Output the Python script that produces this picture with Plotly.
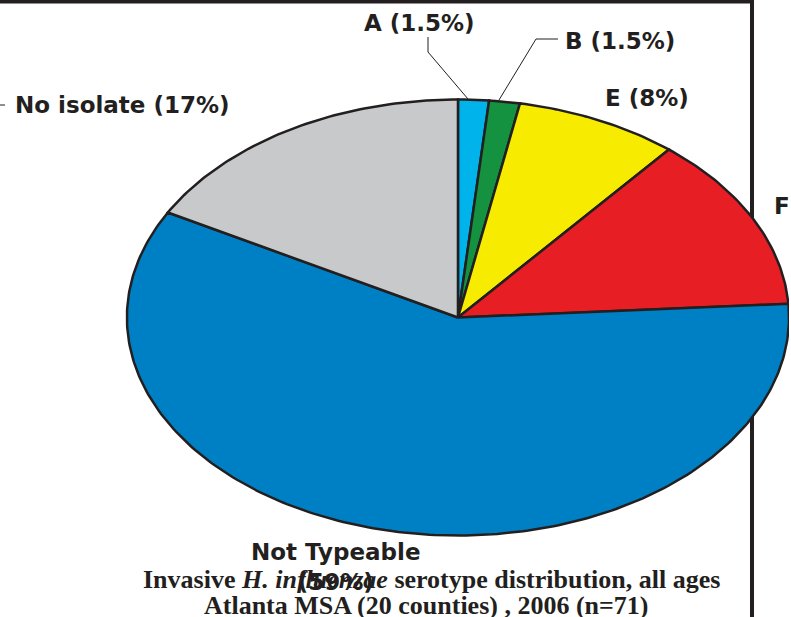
import numpy as np
import plotly.graph_objects as go

# Serotype shares (percent of 71 cases), clockwise from 12 o'clock
labels = ["A", "B", "E", "F", "Not Typeable", "No isolate"]
percents = [1.5, 1.5, 8, 13, 59, 17]
colors = ["#00B3EA", "#15923F", "#F7EC00", "#E81E25", "#0080C4", "#C8C9CB"]
slice_text = ["A (1.5%)", "B (1.5%)", "E (8%)", "F (13%)",
              "Not Typeable<br>(59%)", "No isolate (17%)"]

title_lines = ["Invasive <i>H. influenzae</i> serotype distribution, all ages",
               "Atlanta MSA (20 counties) , 2006 (n=71)"]

W, H = 791, 617
ML, MR, MT, MB = 117, 2, 93, 75
PW, PH = W - ML - MR, H - MT - MB


def px(x):
    return (x - ML) / PW


def py(y):
    return (H - MB - y) / PH


fig = go.Figure()

# Each wedge is a filled polygon on a unit circle; the axis scaling
# stretches it into the wide ellipse.
cum = np.concatenate([[0], np.cumsum(percents)])
for i, lab in enumerate(labels):
    a0, a1 = cum[i] / 100 * 2 * np.pi, cum[i + 1] / 100 * 2 * np.pi
    th = np.linspace(a0, a1, max(4, int((a1 - a0) / (2 * np.pi) * 400)))
    xs = np.concatenate([[0], np.sin(th), [0]])
    ys = np.concatenate([[0], np.cos(th), [0]])
    fig.add_trace(go.Scatter(
        x=xs, y=ys, mode="lines", fill="toself", fillcolor=colors[i],
        line=dict(color="#231F20", width=2.5), name=lab, hoverinfo="name",
    ))

label_font = dict(family="DejaVu Sans", size=23, weight="bold", color="#231F20")
annos = [
    dict(text=slice_text[0], x=px(362), y=py(23), xanchor="left"),
    dict(text=slice_text[1], x=px(563), y=py(41), xanchor="left"),
    dict(text=slice_text[2], x=px(603), y=py(98), xanchor="left"),
    dict(text=slice_text[3], x=px(772), y=py(206), xanchor="left"),
    dict(text=slice_text[5], x=px(13), y=py(105), xanchor="left"),
    dict(text=slice_text[4], x=px(336), y=py(567), xanchor="center"),
]
for a in annos:
    fig.add_annotation(xref="paper", yref="paper", yanchor="middle",
                       showarrow=False, font=label_font, **a)

title_font = dict(family="Liberation Serif", size=26, weight="bold", color="#231F20")
for txt, cx, cy in zip(title_lines, [431, 426], [579, 605]):
    fig.add_annotation(text=txt, xref="paper", yref="paper",
                       x=px(cx), y=py(cy), xanchor="center", yanchor="middle",
                       showarrow=False, font=title_font)

line_style = dict(color="#231F20", width=1)
shapes = [
    # frame edges
    dict(type="line", x0=px(0), x1=px(754), y0=py(1.5), y1=py(1.5),
         line=dict(color="#231F20", width=4), layer="below"),
    dict(type="line", x0=px(752), x1=px(752), y0=py(0), y1=py(617),
         line=dict(color="#231F20", width=4), layer="below"),
    # leader lines
    dict(type="path", path=f"M {px(428)} {py(37)} L {px(428)} {py(52)} L {px(468)} {py(99)}",
         line=line_style),
    dict(type="path", path=f"M {px(558)} {py(39)} L {px(536)} {py(39)} L {px(499)} {py(100)}",
         line=line_style),
    dict(type="line", x0=px(0), x1=px(5), y0=py(105), y1=py(105), line=line_style),
]
for s in shapes:
    fig.add_shape(xref="paper", yref="paper", **s)

fig.update_layout(
    width=W, height=H, showlegend=False,
    paper_bgcolor="white", plot_bgcolor="white",
    margin=dict(l=ML, r=MR, t=MT, b=MB, autoexpand=False),
    xaxis=dict(range=[-1.03, 1.0], visible=False, fixedrange=True),
    yaxis=dict(range=[-1.03, 1.03], visible=False, fixedrange=True),
)

fig.write_html("out.html")
